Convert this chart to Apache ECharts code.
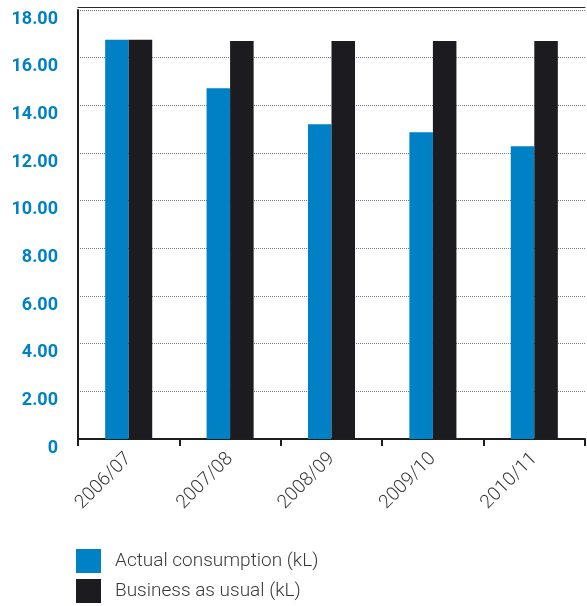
<!DOCTYPE html>
<html>
<head>
<meta charset="utf-8">
<script src="https://cdn.jsdelivr.net/npm/echarts@6/dist/echarts.min.js"></script>
<style>
  html, body { margin: 0; padding: 0; background: #fff; }
  #chart { width: 587px; height: 606px; }
</style>
</head>
<body>
<div id="chart"></div>
<script>
// Fuel consumption per year against the business-as-usual baseline (kL)
const years = ['2006/07', '2007/08', '2008/09', '2009/10', '2010/11'];
const actualConsumption = [16.75, 14.72, 13.21, 12.87, 12.28];
const businessAsUsual = [16.75, 16.7, 16.7, 16.7, 16.7];
const yTicks = { min: 0, max: 18, interval: 2 };

const BLUE = '#0081c6';
const BLACK = '#1c1b1f';

const chart = echarts.init(document.getElementById('chart'), null, { renderer: 'canvas' });

chart.setOption({
  animation: false,
  backgroundColor: '#ffffff',
  grid: { left: 78, right: 2, top: 10, bottom: 167 },
  legend: {
    orient: 'vertical',
    left: 76,
    top: 549,
    padding: 0,
    itemWidth: 25,
    itemHeight: 24,
    itemGap: 6,
    icon: 'rect',
    selectedMode: false,
    textStyle: {
      fontFamily: 'Roboto',
      fontWeight: 300,
      fontSize: 19,
      color: '#3a3a3a',
      padding: [0, 0, 0, 9]
    },
    data: ['Actual consumption (kL)', 'Business as usual (kL)']
  },
  xAxis: [
    {
      type: 'category',
      data: years,
      boundaryGap: true,
      axisLine: { lineStyle: { color: '#1e1e1e', width: 2 } },
      axisTick: { show: true, length: 7, lineStyle: { color: '#1e1e1e', width: 2 } },
      axisLabel: {
        rotate: 45,
        margin: 17,
        fontFamily: 'Roboto',
        fontWeight: 300,
        fontSize: 19,
        color: '#3a3a3a'
      },
      splitLine: { show: false }
    },
    {
      // thin frame line along the top of the plot
      type: 'category',
      position: 'top',
      offset: 3,
      data: years,
      axisLine: { show: true, lineStyle: { color: '#2a2a2a', width: 1 } },
      axisTick: { show: false },
      axisLabel: { show: false },
      splitLine: { show: false }
    }
  ],
  yAxis: {
    type: 'value',
    min: yTicks.min,
    max: yTicks.max,
    interval: yTicks.interval,
    axisLine: { show: true, lineStyle: { color: '#1e1e1e', width: 2 } },
    axisTick: { show: false },
    axisLabel: {
      margin: 20,
      fontFamily: 'Roboto',
      fontWeight: 'bold',
      fontSize: 18,
      color: BLUE,
      verticalAlign: 'top',
      formatter: function (v) { return v === 0 ? '0' : v.toFixed(2); }
    },
    splitLine: {
      show: true,
      lineStyle: { color: '#7a7a7a', width: 1, type: [1, 1] }
    }
  },
  series: [
    {
      name: 'Actual consumption (kL)',
      type: 'bar',
      data: actualConsumption,
      barWidth: '23.2%',
      barGap: '0%',
      itemStyle: { color: BLUE }
    },
    {
      name: 'Business as usual (kL)',
      type: 'bar',
      data: businessAsUsual,
      barWidth: '23.2%',
      barGap: '0%',
      itemStyle: { color: BLACK }
    }
  ]
});
</script>
</body>
</html>
